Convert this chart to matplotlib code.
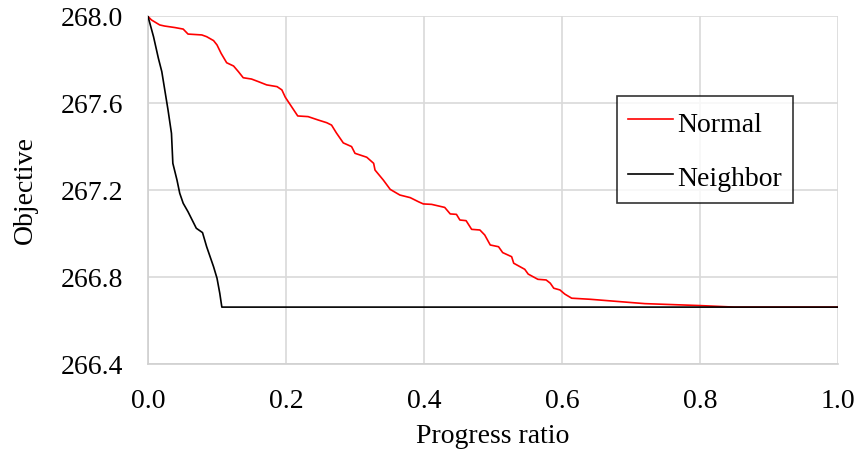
import matplotlib
matplotlib.use("Agg")
import matplotlib.pyplot as plt

plt.rcParams['font.family'] = ['Liberation Serif', 'DejaVu Serif']

# Best objective value versus search progress
normal_x = [0.000, 0.005, 0.017, 0.024, 0.039, 0.051, 0.058, 0.078, 0.085, 0.095,
            0.100, 0.106, 0.114, 0.124, 0.131, 0.138, 0.150, 0.160, 0.172, 0.187,
            0.194, 0.199, 0.208, 0.217, 0.232, 0.247, 0.259, 0.266, 0.273, 0.283,
            0.295, 0.300, 0.317, 0.327, 0.329, 0.341, 0.351, 0.365, 0.380, 0.392,
            0.399, 0.411, 0.430, 0.438, 0.447, 0.452, 0.461, 0.469, 0.481, 0.488,
            0.496, 0.508, 0.514, 0.527, 0.530, 0.546, 0.551, 0.565, 0.577, 0.583,
            0.588, 0.597, 0.604, 0.614, 0.641, 0.720, 0.800, 0.850, 1.000]
normal_y = [268.000, 267.984, 267.961, 267.956, 267.949, 267.942, 267.919, 267.915, 267.907, 267.889,
            267.869, 267.830, 267.787, 267.772, 267.746, 267.718, 267.712, 267.700, 267.685, 267.677,
            267.662, 267.628, 267.585, 267.542, 267.539, 267.523, 267.511, 267.500, 267.464, 267.418,
            267.401, 267.370, 267.352, 267.324, 267.293, 267.247, 267.204, 267.178, 267.166, 267.147,
            267.137, 267.135, 267.121, 267.091, 267.089, 267.063, 267.060, 267.020, 267.017, 266.994,
            266.948, 266.940, 266.913, 266.894, 266.864, 266.836, 266.814, 266.790, 266.787, 266.772,
            266.749, 266.741, 266.722, 266.703, 266.698, 266.678, 266.669, 266.662, 266.662]

neighbor_x = [0.000, 0.008, 0.015, 0.020, 0.029, 0.034, 0.036, 0.042, 0.046, 0.051,
              0.058, 0.070, 0.079, 0.085, 0.095, 0.100, 0.104, 0.107, 1.000]
neighbor_y = [268.000, 267.907, 267.808, 267.746, 267.570, 267.462, 267.324, 267.247, 267.186, 267.140,
              267.101, 267.025, 267.005, 266.940, 266.848, 266.795, 266.726, 266.662, 266.662]

x_ticks = [0.0, 0.2, 0.4, 0.6, 0.8, 1.0]
y_ticks = [266.4, 266.8, 267.2, 267.6, 268.0]

fig = plt.figure(figsize=(8.56, 4.54), dpi=100)
ax = fig.add_axes([0.1729, 0.1982, 0.8061, 0.7655])

ax.plot(normal_x, normal_y, color='#ff0000', lw=1.2, label='Normal', zorder=3)
ax.plot(neighbor_x, neighbor_y, color='black', lw=1.2, label='Neighbor', zorder=4)

ax.set_xlim(0, 1.0)
ax.set_ylim(266.4, 268.0)
ax.set_xticks(x_ticks)
ax.set_yticks(y_ticks)
ax.set_xticklabels([f"{v:.1f}" for v in x_ticks])
ax.set_yticklabels([f"{v:.1f}" for v in y_ticks])
ax.tick_params(axis='both', length=0, labelsize=20)
ax.tick_params(axis='x', pad=18)
ax.tick_params(axis='y', pad=18)
ax.grid(True, color='#d9d9d9', lw=1.2)
ax.set_axisbelow(True)
for side in ['top', 'right']:
    ax.spines[side].set_visible(False)
for side in ['left', 'bottom']:
    ax.spines[side].set_color('#d0d0d0')
    ax.spines[side].set_linewidth(1.2)

ax.set_xlabel('Progress ratio', fontsize=20, labelpad=7)
ax.set_ylabel('Objective', fontsize=20, labelpad=16)

leg = ax.legend(loc='upper left', bbox_to_anchor=(617 / 856, 1 - 96 / 454),
                bbox_transform=fig.transFigure, fontsize=20, frameon=True,
                fancybox=False, handlelength=1.6, handletextpad=0.18,
                handleheight=1.32, labelspacing=0.86, borderpad=0.4,
                borderaxespad=0)
leg.get_frame().set_edgecolor('black')
leg.get_frame().set_linewidth(1.2)

fig.savefig('out.png', dpi=100)
